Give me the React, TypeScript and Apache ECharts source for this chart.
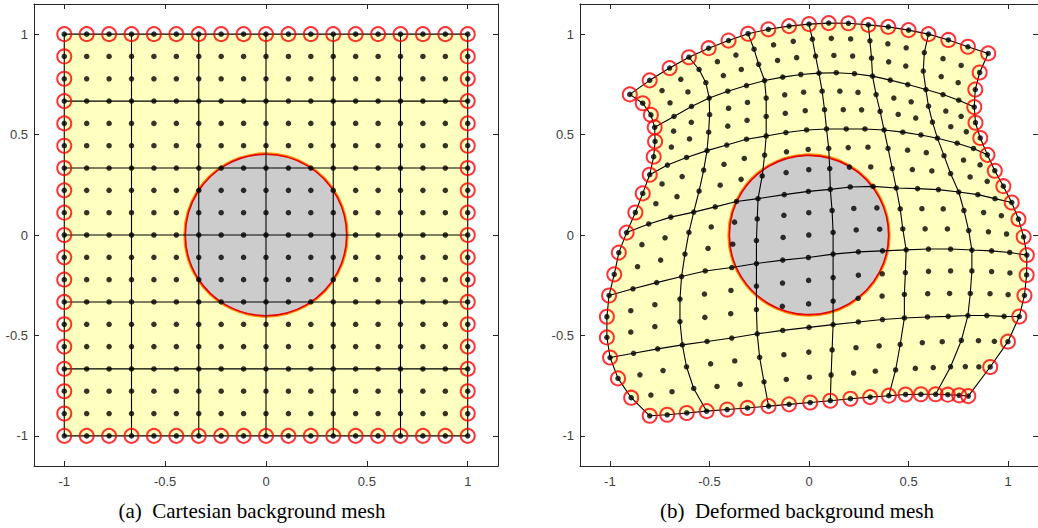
import React, { useEffect, useRef } from "react";
import * as echarts from "echarts";

type P = [number, number];

// Cartesian mesh coordinates (both directions)
const gridValues = [-1, -0.8889, -0.7778, -0.6667, -0.5556, -0.4444, -0.3333, -0.2222, -0.1111, 0,
  0.1111, 0.2222, 0.3333, 0.4444, 0.5556, 0.6667, 0.7778, 0.8889, 1];
// indices of the mesh lines
const lineIndices = [0, 3, 6, 9, 12, 15, 18];
const diskRadius = 0.4;
const axisMin = -1.15;
const axisMax = 1.15;
const captionLeft = "(a)  Cartesian background mesh";
const captionRight = "(b)  Deformed background mesh";

// Deformed mesh, row 0 = top, column 0 = left
const defRow0: P[] = [[-0.9, 0.7], [-0.8, 0.77], [-0.7, 0.831], [-0.603, 0.885], [-0.504, 0.93], [-0.404, 0.968], [-0.306, 1.002], [-0.204, 1.024], [-0.1, 1.04], [0, 1.05], [0.099, 1.055], [0.198, 1.054], [0.298, 1.046], [0.398, 1.036], [0.5, 1.02], [0.6, 1.0], [0.7, 0.971], [0.798, 0.937], [0.9, 0.904]];
const defRow1: P[] = [[-0.835, 0.656], [-0.738, 0.719], [-0.644, 0.775], [-0.552, 0.824], [-0.46, 0.863], [-0.367, 0.896], [-0.276, 0.925], [-0.178, 0.947], [-0.079, 0.964], [0.017, 0.975], [0.112, 0.979], [0.209, 0.976], [0.306, 0.967], [0.396, 0.952], [0.488, 0.932], [0.579, 0.908], [0.673, 0.878], [0.764, 0.844], [0.857, 0.809]];
const defRow2: P[] = [[-0.794, 0.598], [-0.698, 0.658], [-0.608, 0.712], [-0.518, 0.758], [-0.43, 0.794], [-0.34, 0.824], [-0.253, 0.85], [-0.158, 0.869], [-0.062, 0.883], [0.033, 0.891], [0.125, 0.894], [0.219, 0.891], [0.314, 0.88], [0.4, 0.862], [0.486, 0.841], [0.574, 0.816], [0.664, 0.789], [0.749, 0.758], [0.835, 0.724]];
const defRow3: P[] = [[-0.775, 0.536], [-0.678, 0.59], [-0.59, 0.64], [-0.501, 0.682], [-0.408, 0.716], [-0.314, 0.744], [-0.223, 0.769], [-0.132, 0.786], [-0.041, 0.799], [0.05, 0.806], [0.137, 0.808], [0.228, 0.803], [0.319, 0.791], [0.408, 0.771], [0.496, 0.749], [0.587, 0.724], [0.673, 0.699], [0.752, 0.671], [0.83, 0.637]];
const defRow4: P[] = [[-0.773, 0.466], [-0.68, 0.517], [-0.591, 0.561], [-0.499, 0.599], [-0.404, 0.631], [-0.309, 0.66], [-0.215, 0.682], [-0.122, 0.698], [-0.027, 0.711], [0.066, 0.716], [0.155, 0.716], [0.246, 0.71], [0.337, 0.699], [0.426, 0.682], [0.513, 0.663], [0.6, 0.641], [0.687, 0.617], [0.764, 0.591], [0.836, 0.559]];
const defRow5: P[] = [[-0.78, 0.39], [-0.691, 0.438], [-0.6, 0.478], [-0.504, 0.512], [-0.408, 0.542], [-0.311, 0.571], [-0.215, 0.59], [-0.119, 0.606], [-0.019, 0.619], [0.078, 0.624], [0.172, 0.624], [0.264, 0.623], [0.357, 0.615], [0.448, 0.6], [0.536, 0.582], [0.62, 0.562], [0.712, 0.539], [0.79, 0.514], [0.86, 0.483]];
const defRow6: P[] = [[-0.8, 0.3], [-0.711, 0.348], [-0.615, 0.386], [-0.512, 0.42], [-0.413, 0.448], [-0.314, 0.477], [-0.215, 0.493], [-0.116, 0.51], [-0.012, 0.523], [0.088, 0.528], [0.187, 0.528], [0.281, 0.528], [0.377, 0.523], [0.471, 0.512], [0.562, 0.498], [0.645, 0.482], [0.744, 0.457], [0.826, 0.431], [0.896, 0.399]];
const defRow7: P[] = [[-0.835, 0.207], [-0.738, 0.254], [-0.637, 0.291], [-0.529, 0.323], [-0.427, 0.352], [-0.325, 0.381], [-0.223, 0.398], [-0.113, 0.414], [-0.004, 0.426], [0.099, 0.431], [0.197, 0.435], [0.296, 0.437], [0.397, 0.431], [0.495, 0.422], [0.589, 0.41], [0.678, 0.395], [0.776, 0.373], [0.859, 0.349], [0.933, 0.32]];
const defRow8: P[] = [[-0.872, 0.112], [-0.769, 0.156], [-0.663, 0.191], [-0.552, 0.219], [-0.446, 0.248], [-0.341, 0.277], [-0.235, 0.294], [-0.115, 0.311], [-0.001, 0.325], [0.104, 0.331], [0.203, 0.338], [0.31, 0.339], [0.418, 0.331], [0.519, 0.326], [0.617, 0.319], [0.711, 0.306], [0.809, 0.289], [0.895, 0.267], [0.976, 0.243]];
const defRow9: P[] = [[-0.916, 0.012], [-0.805, 0.055], [-0.694, 0.089], [-0.579, 0.114], [-0.471, 0.14], [-0.364, 0.167], [-0.256, 0.181], [-0.124, 0.201], [-0.003, 0.217], [0.107, 0.227], [0.207, 0.239], [0.322, 0.242], [0.438, 0.234], [0.545, 0.231], [0.65, 0.226], [0.752, 0.214], [0.848, 0.201], [0.934, 0.181], [1.018, 0.162]];
const defRow10: P[] = [[-0.955, -0.088], [-0.839, -0.048], [-0.723, -0.014], [-0.603, 0.013], [-0.491, 0.04], [-0.374, 0.064], [-0.26, 0.08], [-0.126, 0.098], [-0.001, 0.111], [0.116, 0.122], [0.225, 0.132], [0.341, 0.135], [0.458, 0.13], [0.567, 0.131], [0.674, 0.13], [0.778, 0.122], [0.877, 0.112], [0.966, 0.096], [1.052, 0.079]];
const defRow11: P[] = [[-0.978, -0.196], [-0.861, -0.158], [-0.745, -0.125], [-0.623, -0.095], [-0.507, -0.067], [-0.383, -0.046], [-0.264, -0.028], [-0.13, -0.012], [-0.001, 0.0], [0.121, 0.013], [0.237, 0.025], [0.355, 0.029], [0.471, 0.03], [0.583, 0.031], [0.695, 0.03], [0.802, 0.022], [0.901, 0.016], [0.992, 0.005], [1.078, -0.009]];
const defRow12: P[] = [[-1.004, -0.301], [-0.884, -0.268], [-0.765, -0.237], [-0.64, -0.207], [-0.521, -0.179], [-0.388, -0.162], [-0.264, -0.142], [-0.132, -0.125], [-0.003, -0.112], [0.121, -0.095], [0.248, -0.084], [0.369, -0.079], [0.488, -0.074], [0.6, -0.07], [0.711, -0.07], [0.818, -0.075], [0.917, -0.079], [1.008, -0.087], [1.094, -0.1]];
const defRow13: P[] = [[-1.015, -0.407], [-0.895, -0.377], [-0.774, -0.347], [-0.648, -0.319], [-0.525, -0.294], [-0.392, -0.276], [-0.264, -0.254], [-0.133, -0.239], [-0.002, -0.226], [0.121, -0.212], [0.248, -0.2], [0.368, -0.193], [0.484, -0.187], [0.6, -0.181], [0.711, -0.179], [0.818, -0.179], [0.917, -0.182], [1.009, -0.189], [1.093, -0.199]];
const defRow14: P[] = [[-1.015, -0.51], [-0.895, -0.483], [-0.774, -0.456], [-0.648, -0.431], [-0.523, -0.41], [-0.393, -0.392], [-0.264, -0.371], [-0.134, -0.355], [-0.002, -0.343], [0.121, -0.329], [0.247, -0.315], [0.367, -0.304], [0.479, -0.296], [0.596, -0.292], [0.706, -0.291], [0.81, -0.291], [0.909, -0.292], [1.0, -0.297], [1.082, -0.301]];
const defRow15: P[] = [[-0.999, -0.61], [-0.881, -0.589], [-0.76, -0.567], [-0.636, -0.547], [-0.512, -0.53], [-0.388, -0.513], [-0.26, -0.492], [-0.132, -0.475], [0, -0.46], [0.121, -0.446], [0.248, -0.433], [0.369, -0.421], [0.479, -0.413], [0.595, -0.408], [0.699, -0.405], [0.798, -0.401], [0.893, -0.401], [0.98, -0.405], [1.056, -0.406]];
const defRow16: P[] = [[-0.959, -0.714], [-0.849, -0.696], [-0.733, -0.675], [-0.615, -0.656], [-0.494, -0.641], [-0.373, -0.627], [-0.248, -0.609], [-0.126, -0.596], [-0.001, -0.583], [0.116, -0.572], [0.236, -0.561], [0.352, -0.552], [0.458, -0.545], [0.569, -0.536], [0.669, -0.531], [0.765, -0.525], [0.851, -0.526], [0.931, -0.529], [0.999, -0.531]];
const defRow17: P[] = [[-0.893, -0.81], [-0.794, -0.797], [-0.688, -0.78], [-0.579, -0.764], [-0.462, -0.754], [-0.346, -0.743], [-0.226, -0.731], [-0.114, -0.719], [0.002, -0.708], [0.111, -0.697], [0.224, -0.687], [0.333, -0.678], [0.435, -0.672], [0.534, -0.664], [0.624, -0.66], [0.711, -0.656], [0.785, -0.655], [0.853, -0.656], [0.91, -0.657]];
const defRow18: P[] = [[-0.8, -0.9], [-0.712, -0.895], [-0.614, -0.886], [-0.514, -0.877], [-0.411, -0.869], [-0.309, -0.861], [-0.203, -0.852], [-0.1, -0.843], [0.006, -0.834], [0.107, -0.825], [0.208, -0.815], [0.307, -0.807], [0.401, -0.8], [0.485, -0.794], [0.562, -0.793], [0.636, -0.793], [0.697, -0.795], [0.754, -0.798], [0.8, -0.802]];

const deformedRows: P[][] = [defRow0, defRow1, defRow2, defRow3, defRow4, defRow5, defRow6, defRow7, defRow8, defRow9,
  defRow10, defRow11, defRow12, defRow13, defRow14, defRow15, defRow16, defRow17, defRow18];

const cartesianRows: P[][] = gridValues.slice().reverse().map((y) => gridValues.map((x) => [x, y] as P));

function meshParts(rows: P[][]) {
  const n = rows.length;
  const dots: P[] = [];
  rows.forEach((row) => row.forEach((p) => dots.push(p)));
  const lines: P[][] = [];
  lineIndices.forEach((r) => lines.push(rows[r]));
  lineIndices.forEach((c) => lines.push(rows.map((row) => row[c])));
  const boundary: P[] = [];
  for (let c = 0; c < n; c++) boundary.push(rows[0][c]);
  for (let r = 1; r < n; r++) boundary.push(rows[r][n - 1]);
  for (let c = n - 2; c >= 0; c--) boundary.push(rows[n - 1][c]);
  for (let r = n - 2; r >= 1; r--) boundary.push(rows[r][0]);
  return { dots, lines, boundary };
}

function plotSeries(rows: P[][], idx: number): any[] {
  const { dots, lines, boundary } = meshParts(rows);
  const common = { xAxisIndex: idx * 2, yAxisIndex: idx * 2, silent: true };
  const out: any[] = [];
  out.push({
    ...common, type: "custom", z: 1, data: [[0, 0]],
    renderItem: (_p: any, api: any) => ({
      type: "polygon",
      shape: { points: boundary.map((p) => api.coord(p)) },
      style: { fill: "#FFFFBF", stroke: "#FFFFBF", lineWidth: 0.5 },
    }),
  });
  out.push({
    ...common, type: "custom", z: 2, data: [[0, 0]],
    renderItem: (_p: any, api: any) => {
      const c = api.coord([0, 0]);
      const r = api.size([diskRadius, 0])[0];
      return {
        type: "group",
        children: [
          { type: "circle", shape: { cx: c[0], cy: c[1], r: r + 0.8 }, style: { fill: "#CCCCCC", stroke: "#FF8C00", lineWidth: 2.4 } },
          { type: "circle", shape: { cx: c[0], cy: c[1], r: r }, style: { fill: "none", stroke: "#E60000", lineWidth: 1.6 } },
        ],
      };
    },
  });
  lines.forEach((ln) => {
    out.push({
      ...common, type: "line", z: 3, data: ln, symbol: "none", smooth: false,
      lineStyle: { color: "#000000", width: 1.1 },
    });
  });
  out.push({
    ...common, type: "scatter", z: 4, data: dots, symbol: "circle", symbolSize: 5.5,
    itemStyle: { color: "#000000" },
  });
  out.push({
    ...common, type: "scatter", z: 5, data: boundary, symbol: "circle", symbolSize: 14,
    itemStyle: { color: "rgba(0,0,0,0)", borderColor: "#FF0000", borderWidth: 2 },
  });
  return out;
}

function axisDef(grid: number, labels: boolean, pos: string, isX: boolean) {
  return {
    type: "value", gridIndex: grid, min: axisMin, max: axisMax, position: pos,
    splitLine: { show: false },
    axisLine: { show: true, onZero: false, lineStyle: { color: "#262626", width: 1 } },
    axisTick: { show: true, inside: true, length: 5, lineStyle: { color: "#262626", width: 1 } },
    axisLabel: {
      show: labels, margin: isX ? 9 : 6, color: "#404040", fontSize: 13, fontFamily: "Liberation Sans",
      showMinLabel: false, showMaxLabel: false,
      formatter: (v: number) => (Math.abs(v) > 1.001 ? "" : String(v)),
    },
  };
}

export default function App() {
  const ref = useRef<HTMLDivElement>(null);
  useEffect(() => {
    if (!ref.current) return;
    const chart = echarts.init(ref.current, undefined, { renderer: "svg" });
    const grids = [
      { left: 34, top: 4, width: 464, height: 462 },
      { left: 580, top: 4, width: 464, height: 462 },
    ];
    const xAxis: any[] = [];
    const yAxis: any[] = [];
    [0, 1].forEach((g) => {
      xAxis.push(axisDef(g, true, "bottom", true));
      xAxis.push(axisDef(g, false, "top", true));
      yAxis.push(axisDef(g, true, "left", false));
      yAxis.push(axisDef(g, false, "right", false));
    });
    const series = [...plotSeries(cartesianRows, 0), ...plotSeries(deformedRows, 1)];
    chart.setOption({
      animation: false,
      backgroundColor: "#ffffff",
      grid: grids,
      xAxis,
      yAxis,
      series,
      graphic: [
        { type: "text", x: 252, y: 511, style: { text: captionLeft, fill: "#000", font: "21px 'Liberation Serif'", textAlign: "center", textVerticalAlign: "middle" } },
        { type: "text", x: 797, y: 511, style: { text: captionRight, fill: "#000", font: "21px 'Liberation Serif'", textAlign: "center", textVerticalAlign: "middle" } },
      ],
    });
    return () => chart.dispose();
  }, []);
  return <div ref={ref} style={{ position: "fixed", left: 0, top: 0, width: 1038, height: 528 }} />;
}
